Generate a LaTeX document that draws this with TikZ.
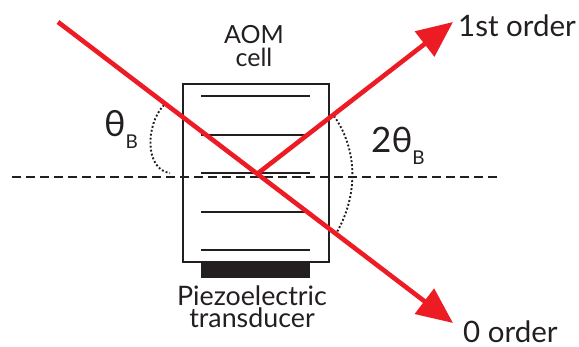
\documentclass[tikz,border=0pt]{standalone}
\usepackage{fontspec}
\setmainfont{Lato}
\usepackage{xcolor}
\usetikzlibrary{arrows.meta,positioning,fit,calc}
\definecolor{inkdark}{HTML}{231F20}
\definecolor{beamred}{HTML}{ED1C24}
\tikzset{
  plate/.style={inkdark,line width=1.5pt},
  beam/.style={beamred,line width=4.6pt,-{Triangle[length=36pt,width=31pt]}},
  arcdot/.style={inkdark,line width=1.9pt,dash pattern=on 1.9pt off 2.1pt},
  lbl/.style={text=inkdark,inner sep=0pt,font=\fontsize{29.5}{29.5}\selectfont,align=center}
}
\newcommand{\subB}{\raisebox{-12pt}{\fontsize{19}{19}\selectfont B}}
\begin{document}
\begin{tikzpicture}[x=1pt,y=-1pt]
  \useasboundingbox (0,0) rectangle (579,347);
  \node[draw=inkdark,line width=1.5pt,minimum width=146pt,minimum height=178pt,inner sep=0pt] (cell) at (256,173) {};
  \node[fill=inkdark,minimum width=109pt,minimum height=16pt,inner sep=0pt] (pzt) at (255.5,270) {};
  % grating planes
  \foreach \t/\y in {a/96,b/135,c/173,d/212,e/250} {
    \coordinate (\t l) at (201,\y);
    \coordinate (\t r) at (310,\y);
    \draw[plate] (\t l) -- (\t r);
  }
  % axis
  \coordinate (axisl) at (12,177);
  \coordinate (axisr) at (498,177);
  \draw[inkdark,line width=1.3pt,dash pattern=on 9pt off 5pt] (axisl) -- (axisr);
  % angle marks
  \coordinate (thl) at (164,105);
  \coordinate (thr) at (170,173);
  \draw[arcdot] (thl) .. controls (145,125) and (145,170) .. (thr);
  \coordinate (twol) at (334,116);
  \coordinate (twor) at (337,232);
  \draw[arcdot] (twol) .. controls (358,150) and (358,195) .. (twor);
  % beams
  \coordinate (src) at (58,22);
  \coordinate (hit) at (257,174);
  \coordinate (tipone) at (453,22);
  \coordinate (tipzero) at (453,323);
  \draw[beam] (hit) -- (tipone);
  \draw[beam] (src) -- (tipzero);
  % labels
  \node[lbl,font=\fontsize{25}{23}\selectfont] (aom) at (254,46) {AOM\\cell};
  \node[lbl,anchor=west] (first) at (458,26) {1st order};
  \node[lbl,anchor=west] (zero) at (463,332) {0 order};
  \node[lbl,font=\fontsize{26.8}{22}\selectfont] (piezo) at (252,307) {Piezoelectric\\transducer};
  \node[lbl,anchor=base west,font=\fontsize{36}{36}\selectfont] (theta) at (104,137) {θ\subB};
  \node[lbl,anchor=base west,font=\fontsize{35}{35}\selectfont] (twotheta) at (371,153) {2θ\subB};
\end{tikzpicture}
\end{document}
